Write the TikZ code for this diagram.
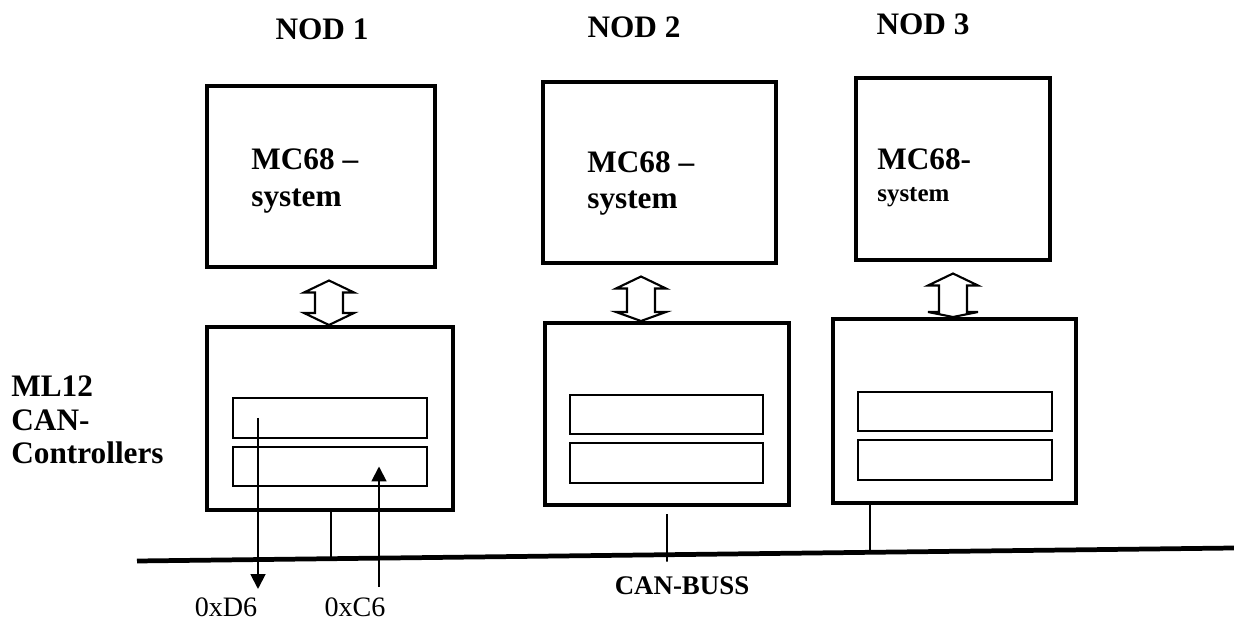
\documentclass[tikz,border=0pt]{standalone}
\usepackage{fontspec}
\setmainfont{Liberation Serif}
\usetikzlibrary{arrows.meta,calc}

% hollow two-way arrow between a processor and its controller
\newcommand{\fatarrow}[4]{%
  \draw[fatarr] ($(#1,0 |- #2.south)+(0,11.5)$) coordinate (tip) -- ++(25,12) -- ++(-11,0)
    -- ($(#1,0 |- #3.north)+(14,-#4)$) -- ++(11,0) -- (#1,0 |- #3.north)
    -- ++(-25,-#4) -- ++(11,0) -- ($(tip)+(-14,12)$) -- ++(-11,0) -- cycle;}

\begin{document}
\begin{tikzpicture}[x=0.02cm,y=-0.02cm,
  box/.style={draw,line width=2.3pt,inner sep=0pt},
  reg/.style={draw,line width=1.1pt,inner sep=0pt,minimum width=3.87cm,minimum height=0.79cm},
  lbl/.style={font=\bfseries\fontsize{17.8}{19.3}\selectfont,inner sep=0pt},
  fatarr/.style={fill=white,line width=1.2pt,line join=miter},
  sig/.style={line width=1.1pt,-{Triangle[length=8.5pt,width=8.5pt]}},
  stub/.style={line width=1.1pt}]
\useasboundingbox (0,0) rectangle (1234,624);

% nodes
\node[lbl,anchor=base] (nod1) at (322,40) {NOD 1};
\node[lbl,anchor=base] (nod2) at (634,38) {NOD 2};
\node[lbl,anchor=base] (nod3) at (923,35) {NOD 3};

\node[box,minimum width=4.56cm,minimum height=3.62cm] (sys1) at (321,176.5) {};
\node[box,minimum width=4.66cm,minimum height=3.62cm] (sys2) at (659.5,172.5) {};
\node[box,minimum width=3.88cm,minimum height=3.64cm] (sys3) at (953,169) {};
\node[lbl,anchor=base west] (mc1) at (251,170) {MC68 –};
\node[lbl,anchor=base west] (sy1) at (251,207) {system};
\node[lbl,anchor=base west] (mc2) at (587,173) {MC68 –};
\node[lbl,anchor=base west] (sy2) at (587,209) {system};
\node[lbl,anchor=base west] (mc3) at (877,170) {MC68-};
\node[lbl,anchor=base west,font=\bfseries\fontsize{14.2}{17}\selectfont] (sy3) at (877,202) {system};

% CAN controllers
\node[box,minimum width=4.92cm,minimum height=3.66cm] (can1) at (330,418.5) {};
\node[box,minimum width=4.88cm,minimum height=3.64cm] (can2) at (667,414) {};
\node[box,minimum width=4.86cm,minimum height=3.68cm] (can3) at (954.5,411) {};
\foreach \i/\x/\y in {1/330/418,2/666.5/414.5,3/955/411.5}{
  \node[reg] (reg\i a) at (\x,\y) {};
  \node[reg] (reg\i b) at (\x,\y+48.5) {};
}
\node[lbl,align=left,anchor=base west] (ml) at (11,464) {ML12\\CAN-\\Controllers};

\fatarrow{329}{sys1}{can1}{12}
\fatarrow{641}{sys2}{can2}{9}
\fatarrow{953}{sys3}{can3}{5}

% bus
\coordinate (busL) at (137,561);
\coordinate (busR) at (1234,548);
\draw[line width=2.7pt] (busL) -- (busR);
\node[font=\bfseries\fontsize{15.3}{18}\selectfont,anchor=base,inner sep=0pt] (buslbl) at (682,595) {CAN-BUSS};
\draw[stub] (can1.south -| 331,0) -- ($(busL)!{(331-137)/1097}!(busR)$);
\draw[stub] ($(can2.south -| 667,0)+(0,7)$) -- ($(busL)!{(667-137)/1097}!(busR)+(0,7)$);
\draw[stub] (can3.south -| 870,0) -- ($(busL)!{(870-137)/1097}!(busR)$);

% messages
\node[font=\fontsize{16}{19}\selectfont,anchor=base,inner sep=0pt] (d6) at (226,616) {0xD6};
\node[font=\fontsize{16}{19}\selectfont,anchor=base,inner sep=0pt] (c6) at (355,616) {0xC6};
\coordinate (d6end) at (258,589);
\coordinate (c6start) at (379,587);
\draw[sig] (reg1a.center -| 258,0) -- (d6end);
\draw[sig] (c6start) -- (reg1b.center -| 379,0);
\end{tikzpicture}
\end{document}
